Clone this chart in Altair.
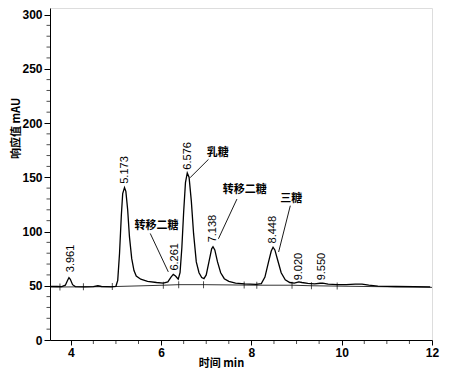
import altair as alt
import pandas as pd

# chromatogram signal (time min, response mAU)
sig_t = [3.54, 3.70, 3.80, 3.88, 3.93, 3.96, 3.99, 4.04, 4.10, 4.30, 4.50, 4.60, 4.68, 4.90,
         5.00, 5.04, 5.08, 5.12, 5.15, 5.19, 5.22, 5.26, 5.30, 5.35, 5.40, 5.45, 5.55, 5.70, 5.90,
         6.05, 6.15, 6.22, 6.27, 6.32, 6.38, 6.42, 6.46, 6.50, 6.54, 6.58, 6.62, 6.67, 6.72, 6.78,
         6.84, 6.90, 6.95, 7.00, 7.06, 7.12, 7.15, 7.19, 7.25, 7.32, 7.40, 7.50, 7.65, 7.85, 8.10,
         8.22, 8.30, 8.38, 8.44, 8.48, 8.52, 8.58, 8.66, 8.75, 8.85, 8.95, 9.05, 9.12, 9.25, 9.40,
         9.52, 9.58, 9.70, 9.90, 10.10, 10.30, 10.45, 10.60, 10.80, 11.20, 11.60, 11.96]
sig_v = [49.5, 49.3, 49.2, 50.5, 55.0, 57.5, 56.0, 51.0, 49.2, 49.0, 49.2, 50.0, 49.3, 49.0,
         49.5, 55.0, 80.0, 115.0, 135.0, 140.5, 137.0, 120.0, 95.0, 75.0, 64.0, 59.0, 56.0, 54.0, 53.0,
         52.5, 53.5, 58.0, 60.5, 59.0, 56.0, 62.0, 85.0, 118.0, 145.0, 154.0, 150.0, 128.0, 98.0, 72.0,
         62.0, 57.5, 56.5, 60.0, 72.0, 84.0, 86.0, 83.0, 72.0, 62.0, 56.5, 54.0, 52.5, 51.8, 51.2,
         52.0, 58.0, 72.0, 82.0, 85.5, 83.0, 74.0, 62.0, 55.5, 53.0, 52.5, 53.5, 53.0, 52.2, 51.8,
         52.3, 52.5, 51.5, 51.0, 51.0, 51.5, 51.5, 50.5, 49.7, 49.3, 49.2, 49.0]

# integration baseline
base_t = [3.54, 4.92, 6.05, 6.39, 6.94, 8.12, 8.90, 9.33, 12.0]
base_v = [48.8, 49.2, 50.5, 51.0, 51.0, 50.5, 50.5, 50.0, 48.5]

# peak boundary marks
mark_t = [3.76, 4.28, 4.92, 6.05, 6.39, 6.94, 7.84, 8.12, 8.90, 9.33, 9.90]
mark_v = [48.9, 49.0, 49.2, 50.5, 51.0, 51.0, 50.7, 50.5, 50.5, 50.0, 49.8]

# retention time labels
peak_lab = ["3.961", "5.173", "6.261", "6.576", "7.138", "8.448", "9.020", "9.550"]
peak_t = [4.00, 5.20, 6.31, 6.60, 7.16, 8.48, 9.05, 9.57]
peak_v = [62.5, 144.0, 64.0, 157.0, 90.0, 89.0, 55.0, 55.0]

# compound annotations
ann_lab = ["转移二糖", "乳糖", "转移二糖", "三糖"]
ann_t = [5.90, 7.255, 7.854, 8.885]
ann_v = [105.5, 172.3, 138.4, 130.2]
lead_t1 = [5.76, 7.05, 7.68, 8.862]
lead_v1 = [98.2, 166.5, 129.9, 123.8]
lead_t2 = [6.16, 6.645, 7.27, 8.603]
lead_v2 = [62.8, 149.7, 93.3, 81.1]

x_major = [4, 6, 8, 10, 12]
x_minor = [3.5, 4.5, 5, 5.5, 6.5, 7, 7.5, 8.5, 9, 9.5, 10.5, 11, 11.5]
y_major = [0, 50, 100, 150, 200, 250, 300]
y_minor = [v for v in range(10, 300, 10) if v % 50 != 0]

sig = pd.DataFrame({"t": sig_t, "v": sig_v})
base = pd.DataFrame({"t": base_t, "v": base_v})
marks = pd.DataFrame({"t": mark_t, "v": mark_v})
peaks = pd.DataFrame({"t": peak_t, "v": peak_v, "lab": peak_lab})
anns = pd.DataFrame({"t": ann_t, "v": ann_v, "lab": ann_lab})
leads = pd.DataFrame({"t1": lead_t1, "v1": lead_v1, "t2": lead_t2, "v2": lead_v2})
xmin_df = pd.DataFrame({"t": [t for t in x_minor if t >= 3.54]})
ymin_df = pd.DataFrame({"v": y_minor})

W, H = 382, 332
xs = alt.Scale(domain=[3.54, 12], nice=False, zero=False)
ys = alt.Scale(domain=[0, 306], nice=False)

common = dict(
    labelFont="Liberation Sans",
    labelFontSize=12,
    labelFontWeight="bold",
    labelPadding=2,
    labelOverlap=False,
    grid=False,
    domainColor="black",
    tickColor="black",
    labelColor="black",
    titleColor="black",
    labelFlush=False,
    titleFont="Noto Sans CJK SC",
    titleFontSize=11,
    titleFontWeight="bold",
    titleBaseline="middle",
    titleAlign="center",
)
x_axis = alt.Axis(values=x_major, tickSize=5, title="时间 min",
                  titleX=171, titleY=23, **common)
y_axis = alt.Axis(values=y_major, tickSize=6, title="响应值 mAU",
                  titleX=-34, titleY=120, titleAngle=270, **common)

line = alt.Chart(sig).mark_line(color="black", strokeWidth=1.3).encode(
    x=alt.X("t:Q", scale=xs, axis=x_axis),
    y=alt.Y("v:Q", scale=ys, axis=y_axis),
)
bl = alt.Chart(base).mark_line(color="black", strokeWidth=0.8).encode(x="t:Q", y="v:Q")
tk = alt.Chart(marks).mark_tick(color="black", orient="vertical", size=7, thickness=1).encode(
    x="t:Q", y="v:Q")
pl = alt.Chart(peaks).mark_text(
    angle=270, align="left", baseline="middle", font="Liberation Sans", fontSize=11,
    color="black").encode(x="t:Q", y="v:Q", text="lab:N")
al = alt.Chart(anns).mark_text(
    align="center", baseline="middle", font="Noto Sans CJK SC", fontSize=11,
    fontWeight="bold", color="black").encode(x="t:Q", y="v:Q", text="lab:N")
ld = alt.Chart(leads).mark_rule(color="black", strokeWidth=0.9).encode(
    x="t1:Q", y="v1:Q", x2="t2:Q", y2="v2:Q")
# minor ticks
ymt = alt.Chart(ymin_df).mark_tick(color="black", orient="horizontal", size=3.5,
                                   thickness=1).encode(x=alt.value(-1.75), y="v:Q")
xmt = alt.Chart(xmin_df).mark_tick(color="black", orient="vertical", size=4,
                                   thickness=1).encode(x="t:Q", y=alt.value(H + 2))

chart = alt.layer(line, bl, tk, ld, pl, al, ymt, xmt).properties(
    width=W, height=H,
    autosize=alt.AutoSizeParams(type="none"),
    padding={"left": 42, "top": 0, "right": 10, "bottom": 30},
).configure_view(stroke=None).configure(background="white")

chart.save("out.html", embed_options={"renderer": "svg", "actions": False})
